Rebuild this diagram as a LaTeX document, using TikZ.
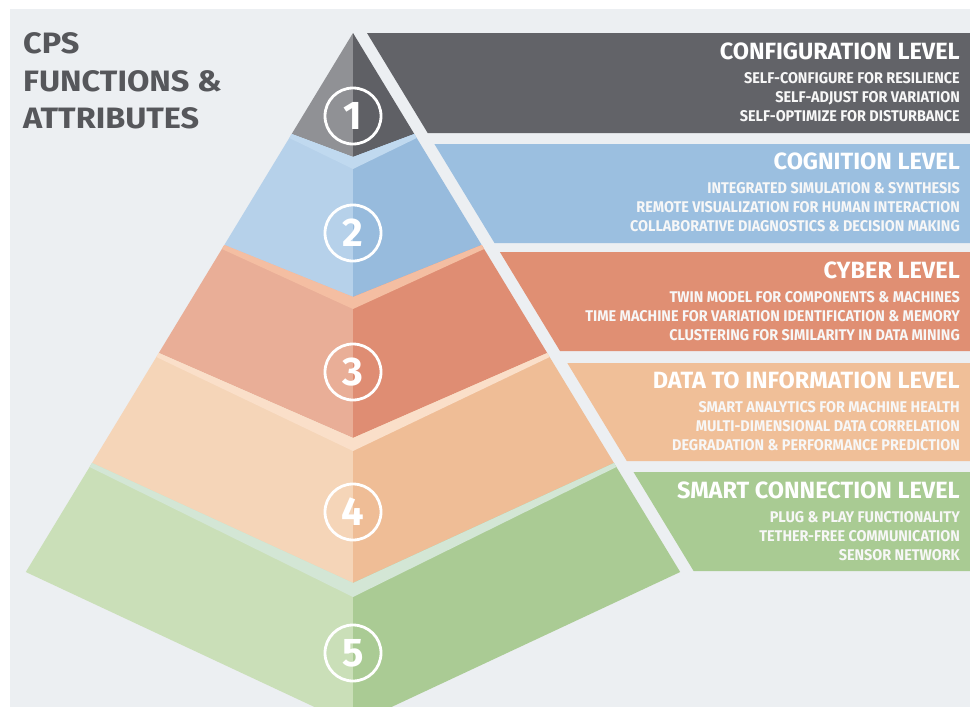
\documentclass[tikz,border=0pt]{standalone}
\usepackage{fontspec}
\setmainfont{Fira Sans}
\newfontfamily\headfont{Fira Sans}[FakeStretch=1.0]
\newfontfamily\itemfont{Fira Sans}[FakeStretch=0.93]
\newfontfamily\bigfont{Fira Sans}[FakeStretch=1.1]

% panel and lettering
\definecolor{paper}{HTML}{ECEFF2}
\definecolor{cpsgray}{HTML}{56575B}
% level 1 (grey)
\definecolor{gL}{HTML}{909195}
\definecolor{gR}{HTML}{5F6065}
\definecolor{gBar}{HTML}{626368}
% level 2 (blue)
\definecolor{bTop}{HTML}{C0D9EF}
\definecolor{bL}{HTML}{B6D1EA}
\definecolor{bR}{HTML}{97BBDD}
\definecolor{bBar}{HTML}{9BBFE0}
% level 3 (salmon)
\definecolor{rTop}{HTML}{F4BEA2}
\definecolor{rL}{HTML}{E9AE97}
\definecolor{rR}{HTML}{DF8D73}
\definecolor{rBar}{HTML}{E08F73}
% level 4 (peach)
\definecolor{pTop}{HTML}{FADFC9}
\definecolor{pL}{HTML}{F5D5B8}
\definecolor{pR}{HTML}{EFBD96}
\definecolor{pBar}{HTML}{F0BF98}
% level 5 (green)
\definecolor{vTop}{HTML}{D3E6D5}
\definecolor{vL}{HTML}{CADFB8}
\definecolor{vR}{HTML}{AACB94}
\definecolor{vBar}{HTML}{A9CB93}

% one coloured bar: name, top y, heading, three attribute lines
\newcommand\levelbar[6]{%
  \node[lvltitle] (#1-title) at (960,#2+26) {#3};
  \node[lvlitem] (#1-a) at (960,#2+50) {#4};
  \node[lvlitem] (#1-b) at (960,#2+69) {#5};
  \node[lvlitem] (#1-c) at (960,#2+88) {#6};
}

\begin{document}
\begin{tikzpicture}[x=1pt,y=-1pt,
  lvltitle/.style={anchor=base east, inner sep=0pt, text=white,
    font=\headfont\bfseries\fontsize{23.5}{24}\selectfont},
  lvlitem/.style={anchor=base east, inner sep=0pt, text=white!97!black,
    font=\itemfont\bfseries\fontsize{15.5}{16}\selectfont},
  numring/.style={circle, draw=white, line width=2.8pt, minimum size=56pt,
    inner sep=0pt, text=white, font=\headfont\bfseries\fontsize{40}{40}\selectfont},
  headline/.style={anchor=base west, inner sep=0pt, text=cpsgray,
    font=\bigfont\bfseries\fontsize{29.5}{30}\selectfont}]

\useasboundingbox (0,0) rectangle (970,707);
\fill[white] (0,0) rectangle (970,707);
\fill[paper] (10,9) rectangle (970,707);

\begin{scope}
\clip (0,0) rectangle (970,707);

% level 1
\fill[gL] (353,33) -- (291.7,134) -- (353,157) -- cycle;
\fill[gR] (353,33) -- (414.3,134) -- (353,157) -- cycle;

% level 2
\fill[bL] (353,157) -- (291.7,134) -- (224.3,245) -- (353,297) -- cycle;
\fill[bR] (353,157) -- (414.3,134) -- (481.7,245) -- (353,297) -- cycle;
\fill[bTop] (291.7,134) -- (353,157) -- (414.3,134) -- (416.7,138) -- (353,169) -- (289.3,138) -- cycle;

% level 3
\fill[rL] (353,297) -- (224.3,245) -- (158.8,353) -- (353,438) -- cycle;
\fill[rR] (353,297) -- (481.7,245) -- (547.2,353) -- (353,438) -- cycle;
\fill[rTop] (224.3,245) -- (353,297) -- (481.7,245) -- (484.1,249) -- (353,309) -- (221.9,249) -- cycle;

% level 4
\fill[pL] (353,438) -- (158.8,353) -- (92,463) -- (353,583) -- cycle;
\fill[pR] (353,438) -- (547.2,353) -- (614,463) -- (353,583) -- cycle;
\fill[pTop] (158.8,353) -- (353,438) -- (547.2,353) -- (549.7,357) -- (353,451) -- (156.3,357) -- cycle;

% level 5
\fill[vL] (353,583) -- (92,463) -- (25.8,572) -- (353,725) -- cycle;
\fill[vR] (353,583) -- (614,463) -- (680.2,572) -- (353,725) -- cycle;
\fill[vTop] (92,463) -- (353,583) -- (614,463) -- (616.4,467) -- (353,597) -- (89.6,467) -- cycle;
\end{scope}

% bars to the right of the pyramid
\fill[gBar] (367,33) -- (970,33) -- (970,133) -- (427.7,133) -- cycle;
\fill[bBar] (434.4,144) -- (970,144) -- (970,243) -- (494.5,243) -- cycle;
\fill[rBar] (499.9,252) -- (970,252) -- (970,351) -- (560,351) -- cycle;
\fill[pBar] (567.3,363) -- (970,363) -- (970,461) -- (626.8,461) -- cycle;
\fill[vBar] (633.5,472) -- (970,472) -- (970,571) -- (693.6,571) -- cycle;

% numbered rings
\node[numring] (n1) at (353,116) {1};
\node[numring] (n2) at (353,233) {2};
\node[numring] (n3) at (353,372) {3};
\node[numring] (n4) at (353,512) {4};
\node[numring] (n5) at (353,653) {5};

% heading
\node[headline] (head1) at (23,53) {CPS};
\node[headline] (head2) at (23,91) {FUNCTIONS \&};
\node[headline] (head3) at (23,128) {ATTRIBUTES};

% level texts
\levelbar{conf}{33}{CONFIGURATION LEVEL}{SELF-CONFIGURE FOR RESILIENCE}{SELF-ADJUST FOR VARIATION}{SELF-OPTIMIZE FOR DISTURBANCE}
\levelbar{cogn}{143}{COGNITION LEVEL}{INTEGRATED SIMULATION \& SYNTHESIS}{REMOTE VISUALIZATION FOR HUMAN INTERACTION}{COLLABORATIVE DIAGNOSTICS \& DECISION MAKING}
\levelbar{cyber}{252}{CYBER LEVEL}{TWIN MODEL FOR COMPONENTS \& MACHINES}{TIME MACHINE FOR VARIATION IDENTIFICATION \& MEMORY}{CLUSTERING FOR SIMILARITY IN DATA MINING}
\levelbar{data}{362}{DATA TO INFORMATION LEVEL}{SMART ANALYTICS FOR MACHINE HEALTH}{MULTI-DIMENSIONAL DATA CORRELATION}{DEGRADATION \& PERFORMANCE PREDICTION}
\levelbar{conn}{472}{SMART CONNECTION LEVEL}{PLUG \& PLAY FUNCTIONALITY}{TETHER-FREE COMMUNICATION}{SENSOR NETWORK}
\end{tikzpicture}
\end{document}
